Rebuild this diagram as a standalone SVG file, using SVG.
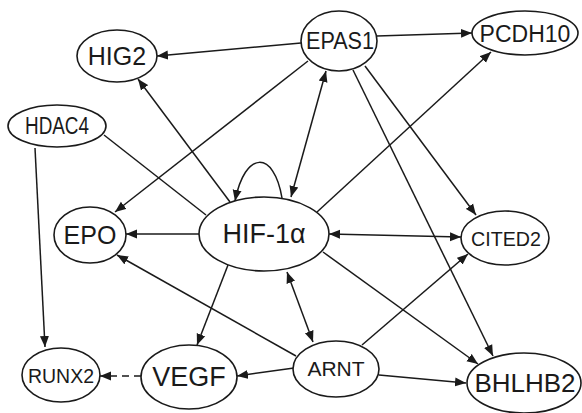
<svg xmlns="http://www.w3.org/2000/svg" width="582" height="413" viewBox="0 0 582 413">
<style>
.n ellipse{fill:#fff;stroke:#1a1a1a;stroke-width:1.6}
.n text{font-family:"Liberation Sans",Arial,sans-serif;fill:#1a1a1a;text-anchor:middle}
.e line,.e path{stroke:#1a1a1a;stroke-width:1.5;fill:none}
.a{marker-end:url(#ah)}
.d{marker-start:url(#ah);marker-end:url(#ah)}
</style>
<defs>
<marker id="ah" markerUnits="userSpaceOnUse" markerWidth="12" markerHeight="10" refX="11" refY="4.5" orient="auto-start-reverse" viewBox="0 0 12 9">
<path d="M0,0 L11,4.5 L0,9 Z" fill="#1a1a1a"/>
</marker>
</defs>
<rect width="582" height="413" fill="#fff"/>
<g id="connectors" class="e">
<line class="a" x1="301" y1="43" x2="157" y2="56"/>
<line class="a" x1="377" y1="36" x2="472" y2="33"/>
<line class="a" x1="308" y1="61" x2="115" y2="212"/>
<line class="d" x1="326" y1="71" x2="291" y2="197"/>
<line class="a" x1="365" y1="66" x2="476" y2="215"/>
<line class="a" x1="353" y1="70" x2="493" y2="356"/>
<line class="a" x1="317" y1="212" x2="491" y2="52"/>
<line class="d" x1="329" y1="234" x2="461" y2="237"/>
<line class="a" x1="323" y1="252" x2="478" y2="364"/>
<line class="d" x1="287" y1="272" x2="313" y2="342"/>
<line class="a" x1="362" y1="345" x2="468" y2="254"/>
<line class="a" x1="379" y1="375" x2="466" y2="383"/>
<line class="a" x1="294" y1="368" x2="237" y2="376"/>
<line class="a" x1="296" y1="356" x2="117" y2="255"/>
<line class="a" x1="228" y1="265" x2="197" y2="345"/>
<line class="a" x1="199" y1="234" x2="126" y2="234"/>
<line x1="104" y1="135" x2="206" y2="215"/>
<line class="a" x1="35" y1="148" x2="45" y2="347"/>
<line class="a" x1="141" y1="376" x2="100" y2="376" stroke-dasharray="7,5"/>
<line class="a" x1="230" y1="202" x2="138" y2="79"/>
<path class="a" d="M282,198 C274,150 245,150 235,201"/>
</g>
<g id="HIG2" class="n"><ellipse cx="117" cy="56" rx="40" ry="26"/><text x="117" y="65" font-size="25">HIG2</text></g>
<g id="HDAC4" class="n"><ellipse cx="57" cy="126" rx="49" ry="21"/><text x="57" y="134" font-size="23" textLength="64" lengthAdjust="spacingAndGlyphs">HDAC4</text></g>
<g id="EPAS1" class="n"><ellipse cx="339" cy="41" rx="38" ry="30"/><text x="340" y="49" font-size="24" textLength="68" lengthAdjust="spacingAndGlyphs">EPAS1</text></g>
<g id="PCDH10" class="n"><ellipse cx="525" cy="33" rx="53" ry="22"/><text x="525" y="42" font-size="23">PCDH10</text></g>
<g id="EPO" class="n"><ellipse cx="90" cy="235" rx="36" ry="28"/><text x="90" y="244" font-size="25">EPO</text></g>
<g id="HIF1A" class="n"><ellipse cx="264" cy="234" rx="65" ry="37"/><text x="264" y="243" font-size="27">HIF-1α</text></g>
<g id="CITED2" class="n"><ellipse cx="505" cy="238" rx="44" ry="27"/><text x="506" y="246" font-size="21" textLength="70" lengthAdjust="spacingAndGlyphs">CITED2</text></g>
<g id="RUNX2" class="n"><ellipse cx="61" cy="375" rx="39" ry="27"/><text x="61" y="383" font-size="20" textLength="66" lengthAdjust="spacingAndGlyphs">RUNX2</text></g>
<g id="VEGF" class="n"><ellipse cx="189" cy="377" rx="48" ry="32"/><text x="189" y="386" font-size="27">VEGF</text></g>
<g id="ARNT" class="n"><ellipse cx="336" cy="369" rx="43" ry="28"/><text x="336" y="376" font-size="21">ARNT</text></g>
<g id="BHLHB2" class="n"><ellipse cx="524" cy="383" rx="57" ry="30"/><text x="525" y="392" font-size="26">BHLHB2</text></g>
</svg>
